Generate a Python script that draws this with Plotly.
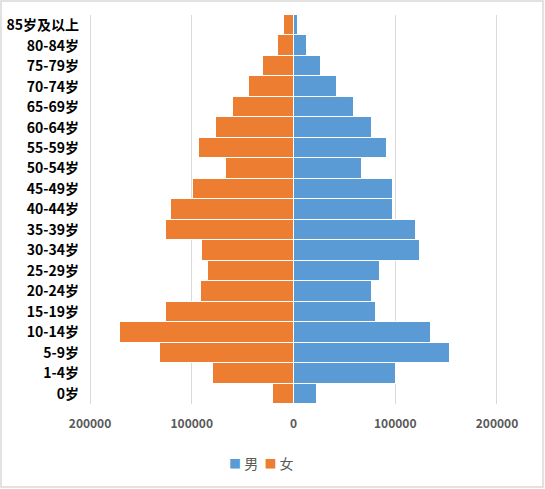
import plotly.graph_objects as go

# age groups, bottom to top
ages = ['0岁', '1-4岁', '5-9岁', '10-14岁', '15-19岁', '20-24岁', '25-29岁',
        '30-34岁', '35-39岁', '40-44岁', '45-49岁', '50-54岁', '55-59岁',
        '60-64岁', '65-69岁', '70-74岁', '75-79岁', '80-84岁', '85岁及以上']

male = [23300, 100700, 153400, 134800, 81000, 77000, 84600, 124300, 120700,
        98000, 98000, 66900, 92100, 77000, 59300, 42300, 27200, 13100, 4600]

female = [20000, 79300, 131500, 170800, 125600, 90800, 84300, 89800, 125600,
          120000, 98400, 66200, 92800, 75700, 59700, 43600, 29500, 15400, 8900]

tick_vals = [-200000, -100000, 0, 100000, 200000]
tick_text = ['200000', '100000', '0', '100000', '200000']

W, H = 545, 489
L, R, T, B = 88, 46, 15, 85
blue, orange = '#5b9bd5', '#ed7d31'

fig = go.Figure()
fig.add_trace(go.Bar(y=ages, x=male, name='男', orientation='h',
                     marker=dict(color=blue, line=dict(color='white', width=1))))
fig.add_trace(go.Bar(y=ages, x=[-v for v in female], name='女', orientation='h',
                     marker=dict(color=orange, line=dict(color='white', width=1))))

# light frame round the whole chart
pw, ph = W - L - R, H - T - B
fig.add_shape(type='rect', xref='paper', yref='paper',
              x0=(1 - L) / pw, x1=(W - 2 - L) / pw,
              y0=-(H - 2 - (H - B)) / ph, y1=1 + (T - 1) / ph,
              line=dict(color='#d9d9d9', width=1.5))

# compact legend drawn as text (plotly's own legend spaces the items too widely)
legend_txt = (f"<span style='color:{blue};font-size:12px'>■</span> {fig.data[0].name}  "
              f"<span style='color:{orange};font-size:12px'>■</span> {fig.data[1].name}")
fig.add_annotation(text=legend_txt, xref='paper', yref='paper',
                   x=(261 - L) / pw, y=-(463 - (H - B)) / ph,
                   xanchor='center', yanchor='middle', showarrow=False,
                   font=dict(size=14, color='#595959', family='Noto Sans CJK SC'))

fig.update_layout(
    width=W, height=H,
    margin=dict(l=L, r=R, t=T, b=B, autoexpand=False),
    barmode='overlay', bargap=0,
    plot_bgcolor='white', paper_bgcolor='white',
    font=dict(family='Noto Sans CJK SC'),
    showlegend=False,
    xaxis=dict(range=[-202000, 202000], tickvals=tick_vals, ticktext=tick_text,
               showgrid=True, gridcolor='#d9d9d9', gridwidth=1, zeroline=False,
               tickfont=dict(size=12, color='#595959', family='Noto Sans CJK SC',
                             weight='bold'),
               ticks='', ticklabelstandoff=11, automargin=False, fixedrange=True),
    yaxis=dict(tickfont=dict(size=14, color='black', family='Noto Sans CJK SC',
                             weight='bold'),
               ticks='', ticklabelstandoff=8, showgrid=False, zeroline=False,
               automargin=False, range=[-0.5, 18.5]),
)

# the page's default body margin would shift the chart by 8px
fig.write_html("out.html", config={'displayModeBar': False},
               post_script="document.body.style.margin='0';")
